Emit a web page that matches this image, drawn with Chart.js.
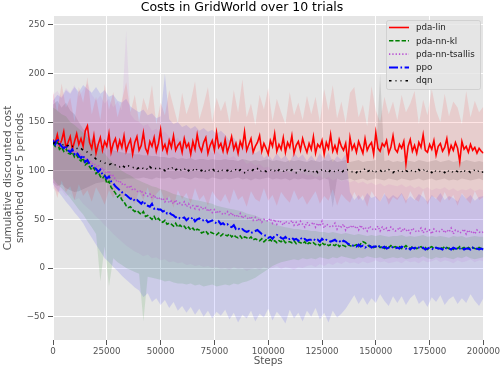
<!DOCTYPE html>
<html>
<head>
<meta charset="utf-8">
<script src="https://cdn.jsdelivr.net/npm/chart.js@4.4.1/dist/chart.umd.min.js"></script>
<style>
  html, body { margin: 0; padding: 0; background: #fff; }
</style>
</head>
<body>
<canvas id="chart" width="502" height="370"></canvas>
<script>
// mean curves, one value every 1000 steps (0 .. 200000)
const STEP = 1000;
const pdaLin = [
  132,128,137,126,131,140,124,129,135,122,130,138,127,133,125,141,146,129,123,136,
  118,127,134,121,130,125,138,119,128,133,122,131,124,136,120,127,132,117,129,135,
  121,126,139,123,118,130,125,134,120,128,142,122,127,119,131,124,136,121,126,129,
  119,133,124,128,117,130,122,137,125,120,129,134,118,126,131,121,139,124,128,120,
  132,119,126,135,122,128,118,130,124,140,121,127,133,119,125,129,136,120,128,123,
  117,131,125,138,120,127,122,134,119,129,124,136,118,126,130,121,133,125,119,128,
  122,135,118,127,124,131,117,129,123,137,120,126,119,132,125,121,128,108,134,122,
  127,119,130,124,118,133,121,126,129,117,139,123,120,128,125,131,118,124,136,122,
  119,127,123,130,107,125,132,120,126,118,129,124,137,121,119,127,122,131,116,125,
  128,120,124,133,118,126,121,129,123,109,130,122,125,119,127,121,124,118,123,120,
  118
];
const pdaNnKl = [
  128,125,129,122,124,120,123,118,117,119,114,116,112,110,113,106,108,104,101,103,
  97,99,94,92,95,87,89,83,80,77,73,75,70,68,64,62,63,60,58,59,
  57,55,58,53,54,52,50,53,49,51,48,47,49,45,46,45,43,46,42,44,
  42,43,40,42,39,41,38,40,39,36,37,38,35,37,36,35,34,36,33,35,
  34,33,35,32,34,32,31,33,30,32,31,30,32,29,30,29,28,30,27,29,
  28,29,27,28,26,28,27,29,26,27,27,26,28,25,27,26,25,27,24,26,
  25,26,24,25,23,26,24,25,23,24,24,23,25,22,24,23,22,24,23,22,
  23,24,22,25,27,26,24,22,23,21,22,23,21,22,20,22,21,23,21,22,
  21,22,20,21,23,21,20,22,21,20,21,22,20,21,19,21,22,20,21,20,
  21,20,22,21,20,21,19,21,20,22,20,21,19,21,20,21,20,19,21,20,
  20
];
const pdaNnTsallis = [
  131,128,126,129,124,125,122,126,120,121,118,120,116,117,113,114,110,111,107,108,
  104,106,101,103,99,97,100,94,95,91,88,90,86,87,84,82,85,80,81,79,
  78,80,75,77,74,76,72,75,71,73,70,72,68,71,67,69,66,70,65,67,
  65,68,63,66,62,64,61,65,60,63,60,62,58,61,57,60,56,59,57,55,
  56,58,54,57,53,55,52,56,51,54,52,50,53,49,52,48,51,47,50,49,
  48,51,46,50,45,49,47,44,48,46,46,49,44,47,43,48,45,42,47,44,
  45,47,42,46,43,48,41,45,44,42,43,46,40,44,42,45,39,43,41,44,
  41,43,39,44,40,42,38,43,41,39,40,43,38,42,39,41,37,42,40,38,
  39,42,37,41,38,40,36,41,39,37,38,41,36,40,37,39,35,40,38,37,
  38,40,36,39,37,41,35,39,38,36,37,40,35,39,36,38,35,39,37,36,
  37
];
const ppo = [
  131,127,133,128,125,123,126,121,119,122,117,119,115,113,116,109,111,107,105,103,
  102,99,101,96,95,92,94,89,87,84,82,80,78,76,75,73,71,72,69,70,
  68,66,69,65,64,63,66,61,62,60,60,58,59,56,57,55,54,52,53,51,
  51,52,49,51,50,52,48,50,51,49,49,50,47,48,49,47,46,48,45,46,
  44,45,43,42,44,40,41,39,40,38,37,38,36,37,38,39,37,35,34,33,
  31,32,30,33,34,33,31,30,32,29,30,31,29,30,28,31,29,30,28,29,
  29,30,28,29,27,30,28,29,28,27,28,29,27,28,26,28,27,25,24,23,
  23,22,24,22,23,21,22,23,21,22,22,21,23,21,22,20,21,22,21,20,
  21,20,22,21,20,21,19,21,20,22,21,20,21,19,20,21,20,19,21,20,
  20,19,21,20,20,19,21,20,19,20,21,19,20,20,19,21,19,20,19,20,
  19
];
const dqn = [
  128,129,127,128,126,127,125,126,124,125,124,123,122,123,121,120,119,117,116,114,
  112,111,110,109,108,107,106,107,105,106,105,104,106,104,103,105,104,103,104,102,
  103,104,102,103,101,104,102,103,102,101,103,102,100,103,101,102,104,101,102,100,
  102,101,103,100,102,101,99,102,101,100,102,99,101,100,102,100,101,99,101,100,
  101,100,102,99,100,101,99,101,100,98,101,100,99,101,100,102,99,100,101,99,
  100,101,99,100,98,101,100,99,102,100,99,101,100,98,100,101,99,100,102,99,
  100,99,101,98,100,101,99,100,98,101,100,99,101,100,98,100,99,101,100,99,
  100,98,101,99,100,102,99,100,98,101,99,100,101,98,100,99,101,100,98,100,
  99,101,100,98,100,99,101,99,100,98,101,99,100,102,99,100,98,101,99,100,
  99,100,98,101,99,100,98,100,99,101,98,100,99,100,98,99,101,99,100,98,
  99
];

// shaded spread over the 10 trials, one value every 2000 steps
const BAND_STEP = 2000;
const pdaLinHi = [
  182,160,190,165,175,150,186,170,196,158,176,152,189,163,181,155,172,191,160,178,
  150,175,162,188,148,170,157,183,166,149,180,158,171,192,153,168,186,150,175,161,
  172,149,183,160,194,155,169,147,178,163,185,151,174,160,148,181,157,170,152,177,
  158,176,150,184,162,188,154,171,149,180,186,155,168,146,187,162,150,176,158,171,
  152,178,160,169,182,148,173,157,184,162,150,179,156,171,165,148,182,155,172,160,166
];
const pdaLinLo = [
  88,72,90,78,84,70,86,74,80,68,83,75,65,80,72,84,69,78,73,66,
  79,70,83,67,76,81,68,74,62,80,71,77,66,82,70,75,64,79,72,68,
  76,66,81,70,74,63,79,71,68,82,69,75,64,78,72,67,80,70,74,65,
  72,79,66,74,69,81,64,76,71,67,78,70,75,63,79,72,68,77,65,73,
  70,76,66,79,71,68,80,65,74,72,67,78,69,75,64,77,71,66,79,70,73
];
const pdaNnKlHi = [
  165,162,158,156,150,147,143,139,134,131,126,122,118,112,108,103,100,97,95,92,
  90,88,86,84,83,81,80,78,76,75,74,72,71,70,69,68,67,66,64,63,
  62,61,60,59,58,56,55,54,52,50,48,46,44,43,42,41,40,40,39,39,
  38,38,37,37,36,37,36,35,36,35,34,35,34,33,34,33,34,33,32,33,
  33,34,32,33,32,33,34,32,33,32,33,32,31,33,32,33,31,32,33,32,32
];
const pdaNnKlLo = [
  92,86,82,77,72,66,60,55,48,42,35,-14,22,-19,10,6,3,0,-2,-4,
  -6,-55,-9,-10,-11,-12,-14,-13,-15,-16,-16,-17,-16,-18,-17,-19,-18,-17,-19,-18,
  -17,-18,-16,-17,-15,-14,-12,-10,-7,-4,-1,2,4,6,7,8,9,8,10,9,
  10,9,11,10,9,11,10,12,11,10,9,11,10,12,11,10,11,9,10,11,
  10,11,9,10,11,10,12,10,9,11,10,11,10,9,11,10,12,10,9,10,11
];
const pdaNnTsallisHi = [
  178,182,176,185,180,188,176,183,190,178,172,177,169,174,165,171,162,244,158,152,
  150,146,148,141,143,138,140,135,131,134,128,130,126,124,127,121,123,118,120,116,
  117,113,115,110,112,107,109,105,107,103,104,100,102,98,101,97,99,96,98,95,
  96,93,95,91,94,90,92,89,91,88,90,87,89,86,88,85,87,84,86,85,
  84,86,83,85,82,84,81,83,80,82,81,83,80,82,79,81,80,82,79,81,80
];
const pdaNnTsallisLo = [
  82,78,80,74,76,70,72,66,62,58,53,49,44,40,35,31,27,23,20,17,
  15,12,14,10,11,8,9,6,7,5,6,3,4,2,3,1,2,0,1,-1,
  0,-2,1,-1,0,-3,-1,0,-2,1,-1,0,2,-1,1,0,-2,1,0,2,
  3,1,4,2,5,3,6,4,7,5,6,4,7,5,6,8,6,7,5,6,
  7,5,8,6,7,5,8,6,7,9,6,8,7,5,8,6,7,9,6,8,7
];
const ppoHi = [
  172,178,175,183,179,186,181,188,184,180,186,179,183,176,178,172,170,174,166,163,
  160,163,157,159,154,156,200,153,148,150,145,147,143,146,141,144,140,142,138,141,
  137,131,134,127,129,122,125,118,121,113,117,111,118,112,116,109,119,113,117,110,
  116,110,118,112,119,109,115,111,117,78,70,75,69,77,72,74,68,76,71,75,
  72,77,69,74,70,76,73,68,75,71,77,70,74,72,68,76,71,75,69,73,74
];
const ppoLo = [
  86,80,74,68,63,57,52,46,38,31,24,17,10,6,1,-3,-8,-12,-16,-20,
  -23,-30,-26,-35,-31,-38,-33,-41,-35,-44,-39,-46,-40,-48,-42,-50,-44,-52,-45,-49,
  -43,-53,-46,-56,-48,-52,-44,-55,-47,-51,-42,-54,-45,-50,-57,-43,-52,-46,-55,-44,
  -50,-41,-53,-46,-56,-44,-51,-47,-42,-35,-28,-37,-30,-38,-31,-36,-27,-34,-39,-29,
  -36,-29,-38,-31,-27,-37,-33,-40,-30,-35,-28,-38,-32,-29,-37,-31,-36,-27,-34,-39,-31
];
const dqnHi = [
  168,172,165,170,162,158,150,143,137,132,128,126,124,122,121,120,119,118,118,117,
  117,116,116,115,115,114,114,113,114,112,113,112,113,111,112,112,111,112,111,111,
  112,111,111,110,112,111,110,111,110,111,112,110,111,110,109,111,110,111,110,109,
  111,110,109,111,110,112,109,110,111,109,110,111,109,110,110,111,200,110,111,109,
  110,109,111,110,109,111,110,109,110,111,109,110,111,109,110,109,111,110,109,110,109
];
const dqnLo = [
  88,84,86,82,80,78,79,81,83,85,87,88,89,90,90,91,91,92,92,92,
  92,93,92,91,93,92,92,93,91,92,93,92,91,93,92,92,91,93,92,91,
  92,91,92,93,91,92,90,92,91,92,93,91,92,91,92,90,92,91,92,91,
  91,92,90,92,91,62,92,90,91,92,90,91,92,90,91,92,91,90,92,91,
  90,92,91,90,91,92,90,91,92,90,91,92,90,91,90,92,91,90,91,92,90
];

const xTicks = [0, 25000, 50000, 75000, 100000, 125000, 150000, 175000, 200000];
const yTicks = [-50, 0, 50, 100, 150, 200, 250];

const series = [
  { label: "pda-lin", mean: pdaLin, hi: pdaLinHi, lo: pdaLinLo, color: "#ff0000", fill: "rgba(255,0,0,0.1)", dash: [], width: 1.6 },
  { label: "pda-nn-kl", mean: pdaNnKl, hi: pdaNnKlHi, lo: pdaNnKlLo, color: "#008000", fill: "rgba(0,128,0,0.11)", dash: [4.4, 1.9], width: 1.6 },
  { label: "pda-nn-tsallis", mean: pdaNnTsallis, hi: pdaNnTsallisHi, lo: pdaNnTsallisLo, color: "#ba55d3", fill: "rgba(186,85,211,0.1)", dash: [1.3, 2], width: 1.6 },
  { label: "ppo", mean: ppo, hi: ppoHi, lo: ppoLo, color: "#0000ff", fill: "rgba(0,0,255,0.11)", dash: [9, 2.5, 1.6, 2.5], width: 2 },
  { label: "dqn", mean: dqn, hi: dqnHi, lo: dqnLo, color: "#000000", fill: "rgba(0,0,0,0.1)", dash: [2.5, 4, 1, 4, 1, 4], width: 1.6 }
];

const FONT = "'DejaVu Sans', 'Liberation Sans', sans-serif";

function points(values, step) {
  return values.map((v, i) => ({ x: i * step, y: v }));
}

const datasets = [];
series.forEach((s, k) => {
  datasets.push({
    label: s.label + " lo",
    data: points(s.lo, BAND_STEP),
    borderWidth: 0,
    pointRadius: 0,
    fill: false,
    order: 20 + k
  });
  datasets.push({
    label: s.label + " hi",
    data: points(s.hi, BAND_STEP),
    borderWidth: 0,
    pointRadius: 0,
    backgroundColor: s.fill,
    fill: "-1",
    order: 20 + k
  });
});
series.forEach((s, k) => {
  datasets.push({
    label: s.label,
    data: points(s.mean, STEP),
    borderColor: s.color,
    borderWidth: s.width,
    borderDash: s.dash,
    pointRadius: 0,
    fill: false,
    tension: 0,
    order: 5 - k
  });
});

// grey ggplot-like panel behind the data
const panelBg = {
  id: "panelBg",
  beforeDraw(chart) {
    const { ctx, chartArea: a } = chart;
    ctx.save();
    ctx.fillStyle = "#ffffff";
    ctx.fillRect(0, 0, chart.width, chart.height);
    ctx.fillStyle = "#e5e5e5";
    ctx.fillRect(a.left, a.top, a.right - a.left, a.bottom - a.top);
    ctx.restore();
  }
};

// matplotlib style legend box in the upper right corner
const legendBox = {
  id: "legendBox",
  afterDatasetsDraw(chart) {
    const ctx = chart.ctx;
    ctx.save();
    ctx.beginPath();
    ctx.roundRect(386.5, 20.5, 94, 69, 2);
    ctx.fillStyle = "rgba(229,229,229,0.8)";
    ctx.fill();
    ctx.strokeStyle = "rgba(204,204,204,0.8)";
    ctx.lineWidth = 1;
    ctx.stroke();
    series.forEach((s, k) => {
      const y = 27.5 + k * 13.3;
      ctx.beginPath();
      ctx.strokeStyle = s.color;
      ctx.lineWidth = s.width;
      ctx.setLineDash(s.dash);
      ctx.moveTo(389, y);
      ctx.lineTo(409, y);
      ctx.stroke();
      ctx.setLineDash([]);
      ctx.fillStyle = "#222222";
      ctx.font = "8.7px " + FONT;
      ctx.textBaseline = "middle";
      ctx.textAlign = "left";
      ctx.fillText(s.label, 416, y + 0.5);
    });
    ctx.restore();
  }
};

new Chart(document.getElementById("chart").getContext("2d"), {
  type: "line",
  data: { datasets },
  options: {
    responsive: false,
    animation: false,
    events: [],
    layout: { padding: { right: 18 } },
    plugins: {
      legend: { display: false },
      tooltip: { enabled: false },
      title: {
        display: true,
        text: "Costs in GridWorld over 10 trials",
        color: "#000000",
        font: { family: FONT, size: 12.5, weight: "normal" },
        padding: { top: 0, bottom: 1 }
      }
    },
    scales: {
      x: {
        type: "linear",
        min: 0,
        max: 200000,
        afterBuildTicks: scale => { scale.ticks = xTicks.map(v => ({ value: v })); },
        afterFit: scale => { scale.height = 30; },
        grid: { color: "#ffffff", lineWidth: 1, tickColor: "#555555", tickLength: 5 },
        border: { display: false },
        ticks: {
          color: "#555555",
          font: { family: FONT, size: 8.7 },
          padding: 2,
          maxRotation: 0,
          autoSkip: false,
          callback: v => String(v)
        },
        title: {
          display: true,
          text: "Steps",
          color: "#555555",
          font: { family: FONT, size: 10.4 },
          padding: { top: 0, bottom: 2 }
        }
      },
      y: {
        min: -74,
        max: 259,
        afterBuildTicks: scale => { scale.ticks = yTicks.map(v => ({ value: v })); },
        afterFit: scale => { scale.width = 53; },
        grid: { color: "#ffffff", lineWidth: 1, tickColor: "#555555", tickLength: 5 },
        border: { display: false },
        ticks: {
          color: "#555555",
          font: { family: FONT, size: 8.7 },
          padding: 3,
          callback: v => (v < 0 ? "\u2212" + Math.abs(v) : String(v))
        },
        title: {
          display: true,
          text: ["Cumulative discounted cost", "smoothed over 5 periods"],
          color: "#555555",
          font: { family: FONT, size: 10.4 },
          padding: { top: 2, bottom: 0 }
        }
      }
    }
  },
  plugins: [panelBg, legendBox]
});
</script>
</body>
</html>
